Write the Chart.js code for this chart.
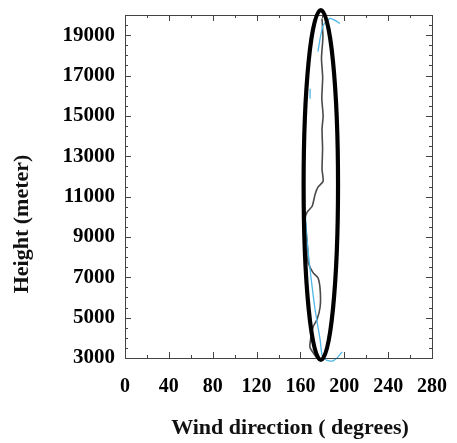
<!DOCTYPE html>
<html>
<head>
<meta charset="utf-8">
<script src="https://cdn.jsdelivr.net/npm/chart.js@4"></script>
<style>
  body { margin: 0; background: #fff; }
</style>
</head>
<body>
<canvas id="chart" width="457" height="443"></canvas>
<script>
// tick labels
const xTicks = [0, 40, 80, 120, 160, 200, 240, 280];
const yTicks = [3000, 5000, 7000, 9000, 11000, 13000, 15000, 17000, 19000];

// dark profile (wind direction vs height)
const grayDir = [179.7, 180.5, 179.2, 180.3, 179.5, 180.7, 179.7, 180.2, 179.7, 180.7, 176, 173.4, 170.7, 166, 164.2, 165.5, 167, 167, 171.5, 176, 178, 178, 175, 171.5, 168.8, 168.8, 175];
const grayHeight = [19830, 18900, 17860, 16900, 15870, 15000, 14350, 13360, 12360, 11760, 11470, 11120, 10520, 10220, 9870, 9100, 8130, 7730, 7230, 6980, 6390, 5540, 4890, 4540, 3750, 3500, 3000];

// light blue profile (broken, null = gap)
const blueDir = [196, 191.6, 187, 180.7, 178, 176, null, 168.8, 168.8, null, 164.2, 165.1, 166, 168.8, 173.4, 178, 179.7, 183.4, 188.9, 193.4, 198];
const blueHeight = [19580, 19730, 19830, 19480, 18840, 18190, null, 16350, 15850, null, 10220, 9620, 8870, 7380, 5390, 3900, 3150, 2900, 2850, 3000, 3300];

// highlight ellipse (data units)
const ellipseCenterDir = 178.6;
const ellipseCenterHeight = 11570;
const ellipseHalfDir = 15.7;
const ellipseHalfHeight = 8670;

const toPoints = (xs, ys) => xs.map((x, i) => ({ x: x, y: ys[i] }));

const frameAndTicks = {
  id: 'frameAndTicks',
  afterDraw(chart) {
    const ctx = chart.ctx;
    const a = chart.chartArea;
    const xs = chart.scales.x, ys = chart.scales.y;
    ctx.save();
    ctx.strokeStyle = '#444';
    ctx.lineWidth = 1;
    ctx.strokeRect(a.left + 0.5, a.top + 0.5, a.right - a.left, a.bottom - a.top);
    ctx.beginPath();
    for (let v = 0; v <= 280; v += 20) {
      const px = Math.round(xs.getPixelForValue(v)) + 0.5;
      const len = v % 40 === 0 ? 6 : 3;
      ctx.moveTo(px, a.bottom); ctx.lineTo(px, a.bottom - len);
      ctx.moveTo(px, a.top); ctx.lineTo(px, a.top + len);
    }
    for (let v = 3000; v <= 20000; v += 500) {
      const py = Math.round(ys.getPixelForValue(v)) + 0.5;
      const len = yTicks.includes(v) ? 6 : 3;
      ctx.moveTo(a.left, py); ctx.lineTo(a.left + len, py);
      ctx.moveTo(a.right, py); ctx.lineTo(a.right - len, py);
    }
    ctx.stroke();

    // ellipse highlight
    const cx = xs.getPixelForValue(ellipseCenterDir);
    const cy = ys.getPixelForValue(ellipseCenterHeight);
    const rx = Math.abs(xs.getPixelForValue(ellipseCenterDir + ellipseHalfDir) - cx);
    const ry = Math.abs(ys.getPixelForValue(ellipseCenterHeight + ellipseHalfHeight) - cy);
    ctx.beginPath();
    ctx.ellipse(cx, cy, rx, ry, 0, 0, Math.PI * 2);
    ctx.strokeStyle = '#000';
    ctx.lineWidth = 4.2;
    ctx.stroke();

    // axis titles
    ctx.fillStyle = '#111';
    ctx.font = 'bold 22px "Liberation Serif", "Times New Roman", serif';
    ctx.textAlign = 'center';
    ctx.textBaseline = 'middle';
    ctx.fillText('Wind direction ( degrees)', 290, 428);
    ctx.translate(22, 224);
    ctx.rotate(-Math.PI / 2);
    ctx.fillText('Height (meter)', 0, 0);
    ctx.restore();
  }
};

new Chart(document.getElementById('chart'), {
  type: 'scatter',
  data: {
    datasets: [
      {
        data: toPoints(blueDir, blueHeight),
        showLine: true,
        borderColor: '#4fb6e6',
        borderWidth: 1.3,
        pointRadius: 0,
        tension: 0.2,
        clip: false
      },
      {
        data: toPoints(grayDir, grayHeight),
        showLine: true,
        borderColor: '#4a4a4a',
        borderWidth: 1.6,
        pointRadius: 0,
        tension: 0.2,
        clip: false
      }
    ]
  },
  options: {
    responsive: false,
    animation: false,
    layout: { padding: { top: 15, right: 25, left: 0, bottom: 0 } },
    plugins: { legend: { display: false }, tooltip: { enabled: false } },
    scales: {
      x: {
        min: 0, max: 280,
        afterBuildTicks: s => { s.ticks = xTicks.map(v => ({ value: v })); },
        afterFit: s => { s.height = 85; s.paddingLeft = 0; s.paddingRight = 0; },
        grid: { display: false, drawTicks: false },
        border: { display: false },
        ticks: {
          padding: 17,
          maxRotation: 0,
          color: '#000',
          font: { family: '"Liberation Serif", "Times New Roman", serif', size: 20, weight: 'bold' }
        }
      },
      y: {
        min: 3000, max: 20000,
        afterBuildTicks: s => { s.ticks = yTicks.map(v => ({ value: v })); },
        afterFit: s => { s.width = 125; s.paddingTop = 0; s.paddingBottom = 0; },
        grid: { display: false, drawTicks: false },
        border: { display: false },
        ticks: {
          padding: 10,
          color: '#000',
          callback: v => String(v),
          font: { family: '"Liberation Serif", "Times New Roman", serif', size: 21, weight: 'bold' }
        }
      }
    }
  },
  plugins: [frameAndTicks]
});
</script>
</body>
</html>
